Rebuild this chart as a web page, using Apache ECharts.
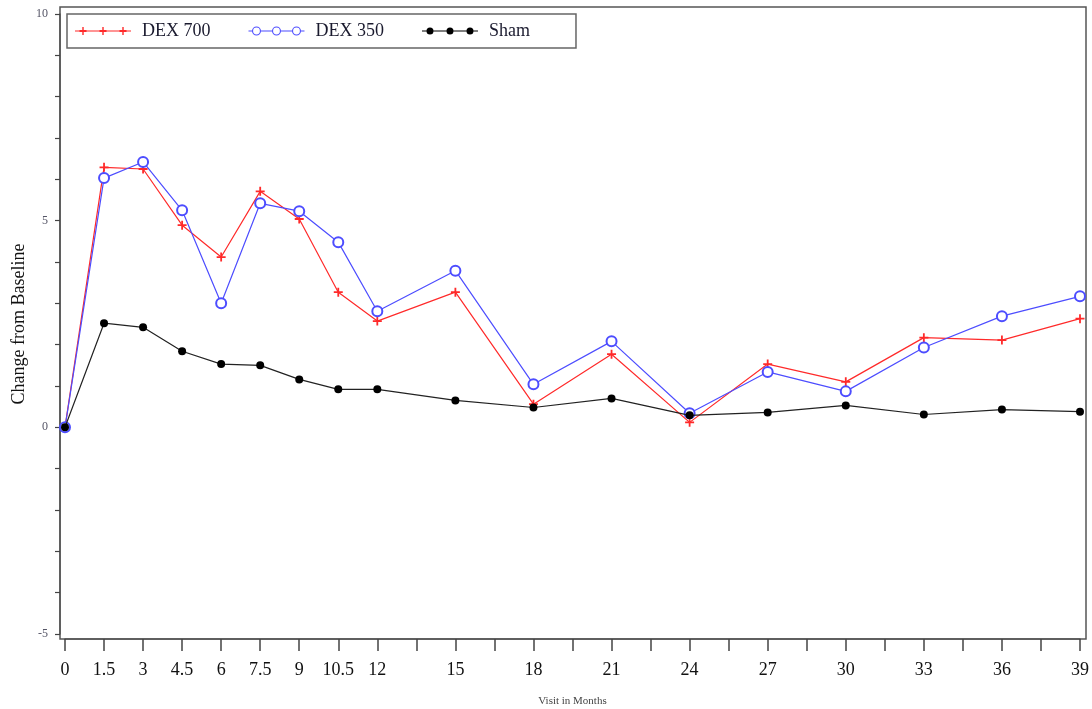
<!DOCTYPE html>
<html>
<head>
<meta charset="utf-8">
<script src="https://cdn.jsdelivr.net/npm/echarts@6/dist/echarts.min.js"></script>
<style>
  html, body { margin: 0; padding: 0; background: #fff; }
  #chart { width: 1092px; height: 709px; }
</style>
</head>
<body>
<div id="chart"></div>
<script>
// Visit months (x positions)
const months = [0, 1.5, 3, 4.5, 6, 7.5, 9, 10.5, 12, 15, 18, 21, 24, 27, 30, 33, 36, 39];

// Mean change from baseline per group
const dex700 = [0, 6.29, 6.25, 4.89, 4.12, 5.71, 5.04, 3.27, 2.57, 3.27, 0.56, 1.77, 0.12, 1.53, 1.10, 2.17, 2.11, 2.63];
const dex350 = [0, 6.03, 6.42, 5.25, 3.00, 5.42, 5.23, 4.48, 2.81, 3.79, 1.04, 2.08, 0.34, 1.34, 0.87, 1.93, 2.69, 3.17];
const sham   = [0, 2.52, 2.42, 1.84, 1.53, 1.50, 1.16, 0.92, 0.92, 0.65, 0.48, 0.70, 0.29, 0.36, 0.53, 0.31, 0.43, 0.38];

// Labelled ticks on each axis
const xTickLabels = [0, 1.5, 3, 4.5, 6, 7.5, 9, 10.5, 12, 15, 18, 21, 24, 27, 30, 33, 36, 39];
const yTickLabels = [-5, 0, 5, 10];

const serif = '"Liberation Serif", "DejaVu Serif", serif';
const plusPath = 'path://M4,0H6V4H10V6H6V10H4V6H0V4H4Z';

const pairs = arr => months.map((m, i) => [m, arr[i]]);

// Legend icons: a short line carrying three markers (56 x 9 box)
const ICON_W = 56, ICON_H = 9, MID = 4.5;
const markX = [8, 28, 48];
function rect(x0, y0, x1, y1) {
  return `M${x0},${y0}H${x1}V${y1}H${x0}Z`;
}
function circle(cx, r, cw) {
  const s = cw ? 1 : 0;
  return `M${cx - r},${MID}A${r},${r} 0 1,${s} ${cx + r},${MID}A${r},${r} 0 1,${s} ${cx - r},${MID}Z`;
}
function plusIcon() {
  let d = rect(0, MID - 0.6, ICON_W, MID + 0.6);
  markX.forEach(cx => {
    d += rect(cx - 0.7, 0.5, cx + 0.7, ICON_H - 0.5);
    d += rect(cx - 3.5, MID - 0.9, cx + 3.5, MID + 0.9);
  });
  return 'path://' + d;
}
function ringIcon() {
  let d = '';
  let prev = 0;
  markX.forEach(cx => {
    d += rect(prev, MID - 0.6, cx - 4, MID + 0.6);
    d += circle(cx, 4.5, true) + circle(cx, 3.4, false);
    prev = cx + 4;
  });
  d += rect(prev, MID - 0.6, ICON_W, MID + 0.6);
  return 'path://' + d;
}
function dotIcon() {
  let d = rect(0, MID - 0.6, ICON_W, MID + 0.6);
  d += rect(0, 0, 0.01, ICON_H);
  markX.forEach(cx => { d += circle(cx, 3.5, true); });
  return 'path://' + d;
}

const chart = echarts.init(document.getElementById('chart'), null, { renderer: 'canvas' });

chart.setOption({
  animation: false,
  backgroundColor: '#fff',
  grid: { left: 65, right: 12, top: 14, bottom: 75, containLabel: false, outerBoundsMode: 'none' },
  graphic: [{
    type: 'rect',
    z: 0,
    shape: { x: 60, y: 7, width: 1026, height: 632 },
    style: { fill: 'none', stroke: '#555', lineWidth: 1.5 }
  }],
  legend: {
    left: 67, top: 14,
    padding: [8, 46, 8, 8],
    itemGap: 38,
    itemWidth: ICON_W, itemHeight: ICON_H,
    borderColor: '#666', borderWidth: 1.5,
    textStyle: { fontFamily: serif, fontSize: 18, color: '#1a1a2e', padding: [0, 0, 0, 6] },
    data: [
      { name: 'DEX 700', icon: plusIcon(), itemStyle: { color: '#ff2a2a', borderWidth: 0 } },
      { name: 'DEX 350', icon: ringIcon(), itemStyle: { color: '#4d4dff', borderWidth: 0 } },
      { name: 'Sham', icon: dotIcon(), itemStyle: { color: '#000', borderWidth: 0 } }
    ]
  },
  xAxis: {
    type: 'value',
    min: 0, max: 39, interval: 1.5,
    offset: 5,
    name: 'Visit in Months',
    nameLocation: 'middle',
    nameGap: 57,
    nameMoveOverlap: false,
    nameTextStyle: { fontFamily: serif, fontSize: 11, color: '#444' },
    axisLine: { show: true, onZero: false, lineStyle: { color: '#555', width: 1.5 } },
    axisTick: { show: true, length: 12, lineStyle: { color: '#444', width: 1.5 } },
    axisLabel: {
      margin: 22,
      fontFamily: serif, fontSize: 18, color: '#111',
      formatter: v => {
        const hit = xTickLabels.find(t => Math.abs(t - v) < 1e-6);
        return hit === undefined ? '' : String(hit);
      }
    },
    splitLine: { show: false }
  },
  yAxis: {
    type: 'value',
    min: -5, max: 10, interval: 1,
    offset: 5,
    name: 'Change from Baseline',
    nameLocation: 'middle',
    nameGap: 32,
    nameMoveOverlap: false,
    nameTextStyle: { fontFamily: serif, fontSize: 18, color: '#111' },
    axisLine: { show: true, onZero: false, lineStyle: { color: '#555', width: 1.5 } },
    axisTick: { show: true, length: 5, lineStyle: { color: '#444', width: 1.2 } },
    axisLabel: {
      margin: 12,
      fontFamily: serif, fontSize: 12, color: '#556',
      formatter: v => (yTickLabels.indexOf(Math.round(v)) >= 0 && Math.abs(v - Math.round(v)) < 1e-6) ? String(Math.round(v)) : ''
    },
    splitLine: { show: false }
  },
  series: [
    {
      name: 'DEX 700', type: 'line', data: pairs(dex700),
      symbol: plusPath, symbolSize: 9,
      itemStyle: { color: '#ff2a2a' },
      lineStyle: { color: '#ff2a2a', width: 1.2 },
      z: 3
    },
    {
      name: 'DEX 350', type: 'line', data: pairs(dex350),
      symbol: 'emptyCircle', symbolSize: 10,
      itemStyle: { color: '#4d4dff', borderWidth: 1.2 },
      lineStyle: { color: '#4d4dff', width: 1.2 },
      z: 4
    },
    {
      name: 'Sham', type: 'line', data: pairs(sham),
      symbol: 'circle', symbolSize: 8,
      itemStyle: { color: '#000' },
      lineStyle: { color: '#222', width: 1.2 },
      z: 5
    }
  ]
});
</script>
</body>
</html>
